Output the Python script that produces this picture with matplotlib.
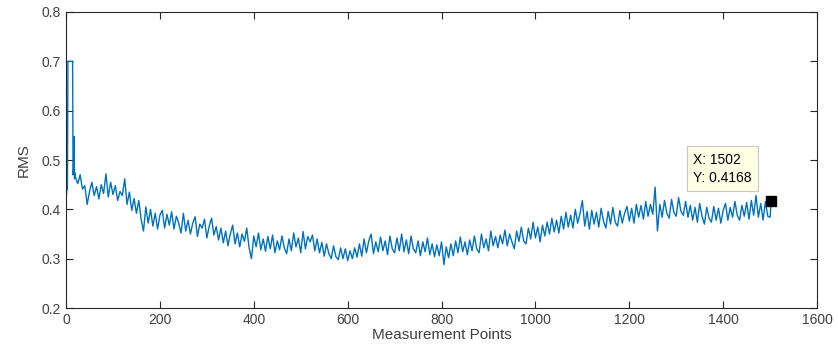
import numpy as np
import matplotlib
matplotlib.use("Agg")
import matplotlib.pyplot as plt

# first samples, including the 0.7 start-up plateau
x_start = [1, 2, 3, 4, 14, 15, 16, 17, 18, 19]
y_start = [0.430, 0.452, 0.440, 0.700, 0.700, 0.470, 0.482, 0.548, 0.462, 0.474]

x_step = 5
x_first = 20
y_main = [
    # 20-115
    0.465, 0.452, 0.470, 0.441, 0.448, 0.410, 0.436, 0.455, 0.428, 0.446,
    0.421, 0.450, 0.432, 0.472, 0.425, 0.455, 0.430, 0.448, 0.418, 0.436,
    # 120-215
    0.428, 0.462, 0.410, 0.435, 0.398, 0.422, 0.392, 0.418, 0.380, 0.356,
    0.405, 0.372, 0.400, 0.366, 0.392, 0.360, 0.388, 0.398, 0.362, 0.390,
    # 220-315
    0.368, 0.395, 0.360, 0.386, 0.372, 0.352, 0.392, 0.356, 0.378, 0.350,
    0.372, 0.385, 0.345, 0.370, 0.362, 0.380, 0.342, 0.366, 0.382, 0.348,
    # 320-415
    0.365, 0.338, 0.362, 0.332, 0.356, 0.326, 0.350, 0.368, 0.330, 0.352,
    0.324, 0.350, 0.335, 0.362, 0.322, 0.300, 0.346, 0.324, 0.352, 0.318,
    # 420-515
    0.340, 0.315, 0.345, 0.320, 0.348, 0.312, 0.336, 0.318, 0.346, 0.322,
    0.310, 0.340, 0.316, 0.352, 0.324, 0.342, 0.312, 0.355, 0.320, 0.345,
    # 520-615
    0.334, 0.348, 0.316, 0.340, 0.312, 0.333, 0.305, 0.330, 0.310, 0.300,
    0.326, 0.304, 0.298, 0.322, 0.300, 0.320, 0.296, 0.316, 0.300, 0.322,
    # 620-715
    0.303, 0.330, 0.305, 0.340, 0.312, 0.336, 0.350, 0.310, 0.334, 0.314,
    0.344, 0.316, 0.336, 0.308, 0.346, 0.320, 0.312, 0.342, 0.316, 0.350,
    # 720-815
    0.314, 0.338, 0.310, 0.346, 0.320, 0.312, 0.336, 0.306, 0.334, 0.314,
    0.342, 0.308, 0.330, 0.304, 0.328, 0.306, 0.334, 0.288, 0.324, 0.302,
    # 820-915
    0.330, 0.306, 0.336, 0.312, 0.344, 0.314, 0.334, 0.308, 0.338, 0.316,
    0.346, 0.320, 0.312, 0.350, 0.322, 0.340, 0.316, 0.356, 0.326, 0.345,
    # 920-1015
    0.322, 0.348, 0.330, 0.358, 0.326, 0.350, 0.334, 0.320, 0.356, 0.335,
    0.364, 0.336, 0.330, 0.362, 0.340, 0.374, 0.342, 0.364, 0.334, 0.368,
    # 1020-1115
    0.346, 0.374, 0.350, 0.382, 0.354, 0.378, 0.352, 0.386, 0.360, 0.394,
    0.364, 0.388, 0.362, 0.400, 0.372, 0.392, 0.418, 0.366, 0.396, 0.360,
    # 1120-1215
    0.398, 0.370, 0.394, 0.364, 0.402, 0.376, 0.362, 0.396, 0.370, 0.404,
    0.374, 0.366, 0.398, 0.372, 0.392, 0.406, 0.376, 0.402, 0.372, 0.410,
    # 1220-1315
    0.384, 0.408, 0.380, 0.416, 0.386, 0.410, 0.390, 0.445, 0.356, 0.410,
    0.384, 0.418, 0.392, 0.382, 0.420, 0.394, 0.386, 0.424, 0.396, 0.388,
    # 1320-1415
    0.416, 0.384, 0.408, 0.378, 0.404, 0.374, 0.412, 0.386, 0.370, 0.404,
    0.382, 0.374, 0.406, 0.378, 0.402, 0.372, 0.398, 0.412, 0.378, 0.404,
    # 1420-1500
    0.384, 0.416, 0.388, 0.378, 0.408, 0.386, 0.414, 0.380, 0.418, 0.388,
    0.428, 0.384, 0.412, 0.378, 0.416, 0.386, 0.384,
]

tip_x = 1502
tip_y = 0.4168

x_main = x_first + x_step * np.arange(len(y_main))
x = np.concatenate([x_start, x_main, [tip_x]])
y = np.concatenate([y_start, y_main, [tip_y]])

plt.rcParams["font.family"] = ["Liberation Sans", "DejaVu Sans"]

fig = plt.figure(figsize=(8.38, 3.6), dpi=100)
ax = fig.add_axes([0.0788, 0.1444, 0.8962, 0.8223])

ax.plot(x, y, color="#0072BD", linewidth=1.0)
ax.plot([tip_x], [tip_y], marker="s", color="black", markersize=7, linestyle="none")

ax.text(1336, 0.482, f"X: {tip_x}\nY: {tip_y}", fontsize=10, color="black",
        va="center", ha="left", linespacing=1.4,
        bbox=dict(boxstyle="square,pad=0.45", fc="#ffffe6", ec="#c8c8c8", lw=0.8))

ax.set_xlim(0, 1600)
ax.set_ylim(0.2, 0.8)
ax.set_xticks(np.arange(0, 1601, 200))
ax.set_yticks([0.2, 0.3, 0.4, 0.5, 0.6, 0.7, 0.8])
ax.set_yticklabels(["0.2", "0.3", "0.4", "0.5", "0.6", "0.7", "0.8"])
ax.tick_params(direction="in", top=True, right=True, length=5, width=0.8,
               colors="#262626", labelcolor="#404040", labelsize=10)
for sp in ax.spines.values():
    sp.set_color("#262626")
    sp.set_linewidth(0.8)

ax.set_xlabel("Measurement Points", fontsize=11, color="#404040", labelpad=1)
ax.set_ylabel("RMS", fontsize=11, color="#404040", labelpad=8)

fig.savefig("out.png", dpi=100)
